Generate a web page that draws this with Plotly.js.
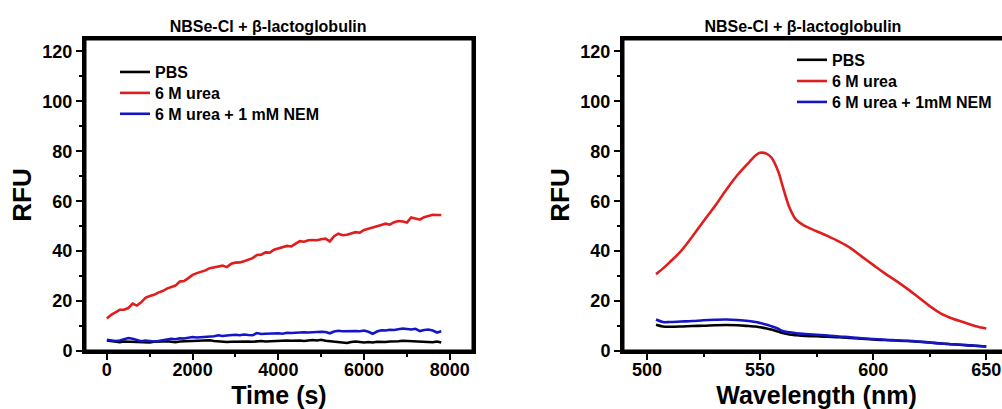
<!DOCTYPE html>
<html>
<head>
<meta charset="utf-8">
<script src="https://cdn.plot.ly/plotly-3.0.1.min.js"></script>
<style>
html,body{margin:0;padding:0;width:1002px;height:409px;overflow:hidden;background:#fff;}
#left{position:absolute;left:0;top:0;width:500px;height:409px;}
#right{position:absolute;left:500px;top:0;width:520px;height:409px;}
</style>
</head>
<body>
<div id="left"></div>
<div id="right"></div>
<script>
// ---- Data: kinetics (left panel) ----
var timeS = [0,100,200,300,400,500,600,700,800,900,1000,1100,1200,1300,1400,1500,1600,1700,1800,1900,
  2000,2100,2200,2300,2400,2500,2600,2700,2800,2900,3000,3100,3200,3300,3400,3500,3600,3700,3800,3900,
  4000,4100,4200,4300,4400,4500,4600,4700,4800,4900,5000,5100,5200,5300,5400,5500,5600,5700,5800,5900,
  6000,6100,6200,6300,6400,6500,6600,6700,6800,6900,7000,7100,7200,7300,7400,7500,7600,7700,7800];
var kinPBS = [4.2,3.9,3.6,3.5,3.8,3.7,3.9,3.6,3.5,3.6,3.4,3.7,3.6,3.8,3.9,3.7,3.5,3.8,3.9,4.0,
  4.2,4.1,4.4,4.5,4.3,4.0,3.8,3.9,3.6,3.7,3.8,3.6,3.9,3.8,3.7,3.9,4.0,3.8,3.9,4.0,
  4.1,3.9,4.2,4.1,4.3,4.2,4.0,4.3,4.4,4.2,4.5,4.1,3.9,4.0,3.8,3.5,3.2,3.6,3.8,3.6,
  3.4,3.6,3.4,3.7,3.5,3.6,3.8,3.7,3.9,4.1,4.0,4.2,3.9,4.0,3.7,3.6,3.5,3.8,3.4];
var kinUrea = [13.0,14.5,15.5,16.5,16.5,17.2,19.0,18.2,19.5,21.3,22.0,22.5,23.4,24.0,25.0,25.5,26.2,27.8,28.0,29.2,
  30.5,31.2,31.6,32.3,33.2,33.6,34.0,34.2,33.6,35.0,35.4,35.5,36.0,36.5,37.2,38.5,38.6,39.5,39.4,40.6,
  41.0,41.5,42.1,41.9,43.1,44.0,43.8,44.4,44.5,44.4,44.8,45.0,43.9,46.0,47.0,46.4,46.6,47.2,47.6,47.4,
  48.5,49.0,49.4,50.0,50.5,51.0,50.6,51.6,52.1,51.9,51.5,53.5,53.0,52.6,53.6,54.0,54.6,54.5,54.5];
var kinNEM = [4.5,4.3,4.0,4.2,4.6,5.2,4.9,4.3,3.9,4.2,4.0,3.8,4.0,4.3,4.6,4.9,4.7,5.1,5.0,5.3,
  5.6,5.4,5.5,5.8,5.6,5.9,6.3,6.0,6.2,6.4,6.5,6.3,6.6,6.4,6.3,7.2,6.8,6.9,7.0,6.8,
  7.1,6.9,7.3,7.2,7.4,7.3,7.5,7.4,7.6,7.5,7.7,7.6,7.1,7.8,8.1,7.9,8.0,7.8,8.0,7.9,
  8.2,7.7,6.9,7.8,8.3,8.2,8.5,8.4,8.8,9.0,8.8,8.6,8.9,8.0,8.4,8.6,8.2,7.4,7.9];

// ---- Data: emission spectra (right panel) ----
var wavelength = [504,507,510,515,520,525,530,535,540,545,548,550,553,555,558,560,563,566,570,575,
  580,585,590,595,600,605,610,615,620,625,630,635,640,645,650];
var specPBS = [10.5,9.8,9.7,9.8,10.0,10.1,10.3,10.4,10.3,10.0,9.8,9.5,9.0,8.6,7.8,7.2,6.6,6.3,6.0,5.9,
  5.7,5.5,5.2,4.9,4.6,4.4,4.2,4.0,3.7,3.4,3.0,2.7,2.4,2.1,1.8];
var specUrea = [30.8,33.0,35.5,40.0,45.8,52.0,58.0,64.5,70.5,75.5,78.3,79.4,79.0,77.5,72.0,66.0,57.5,52.5,50.0,48.0,
  46.0,43.8,41.2,37.8,34.5,31.2,28.2,25.0,21.5,18.0,15.0,13.0,11.5,10.0,9.0];
var specNEM = [12.6,11.6,11.6,11.8,12.0,12.3,12.5,12.6,12.4,12.0,11.6,11.2,10.5,9.9,8.9,8.0,7.5,7.1,6.8,6.5,
  6.2,5.8,5.5,5.1,4.8,4.5,4.3,4.1,3.8,3.4,3.0,2.7,2.4,2.1,1.8];

// ---- Labels / ticks ----
var seriesNames = ['PBS','6 M urea'];
var nemNameLeft = '6 M urea + 1 mM NEM';
var nemNameRight = '6 M urea + 1mM NEM';
var panelTitle = 'NBSe-Cl + \u03b2-lactoglobulin';
var yTicks = [0,20,40,60,80,100,120];
var yMinor = [10,30,50,70,90,110];
var timeTicks = [0,2000,4000,6000,8000];
var timeMinor = [1000,3000,5000,7000];
var wlTicks = [500,550,600,650];
var wlMinor = [525,575,625];

var colors = {pbs:'black', urea:'#e01e1e', nem:'#1515c8'};
var FONT = 'Liberation Sans, Arial, sans-serif';
var lw = 2.6;

function baseAxis(){
  return {showline:true, mirror:true, linewidth:3, linecolor:'black', ticks:'outside', tickcolor:'black',
    ticklen:6, tickwidth:2, showgrid:false, zeroline:false, automargin:false,
    tickfont:{family:FONT, size:18, color:'black', weight:'bold'}};
}
function legendBox(x, y){
  return {x:x, y:y, xanchor:'left', yanchor:'middle', bgcolor:'rgba(0,0,0,0)', borderwidth:0,
    font:{family:FONT, size:16, color:'black', weight:'bold'}};
}
function makeLayout(o){
  var xa = baseAxis(), ya = baseAxis();
  xa.range = o.xrange; xa.tickvals = o.xticks;
  xa.minor = {ticks:'outside', ticklen:3, tickwidth:2, tickcolor:'black', tickvals:o.xminor};
  xa.ticklabelstandoff = -6;
  xa.title = {text:o.xtitle, font:{family:FONT, size:25, color:'black', weight:'bold'}, standoff:11};
  ya.range = [0,125]; ya.tickvals = yTicks;
  ya.minor = {ticks:'outside', ticklen:3, tickwidth:2, tickcolor:'black', tickvals:yMinor};
  ya.title = {text:'RFU', font:{family:FONT, size:26, color:'black', weight:'bold'}, standoff:4};
  return {
    width:o.width, height:409, margin:{l:o.l, r:o.r, t:39, b:58, autoexpand:false},
    paper_bgcolor:'white', plot_bgcolor:'white', font:{family:FONT},
    title:{text:panelTitle, font:{family:FONT, size:16, color:'black', weight:'bold'},
      x:o.titlex, xref:'paper', xanchor:'center', y:1-26/409, yref:'container', yanchor:'middle'},
    xaxis:xa, yaxis:ya, showlegend:true,
    legend:legendBox(o.legx, o.legy[0]), legend2:legendBox(o.legx, o.legy[1]), legend3:legendBox(o.legx, o.legy[2]),
    // plot-area frame (axis box)
    shapes:[{type:'rect', xref:'paper', yref:'paper', x0:0, x1:1, y0:0, y1:1,
      line:{color:'black', width:3}, fillcolor:'rgba(0,0,0,0)', layer:'above'}]
  };
}

var leftTraces = [
  {x:timeS, y:kinPBS, name:seriesNames[0], mode:'lines', line:{color:colors.pbs, width:lw}, legend:'legend'},
  {x:timeS, y:kinUrea, name:seriesNames[1], mode:'lines', line:{color:colors.urea, width:lw}, legend:'legend2'},
  {x:timeS, y:kinNEM, name:nemNameLeft, mode:'lines', line:{color:colors.nem, width:lw}, legend:'legend3'}
];
var rightTraces = [
  {x:wavelength, y:specPBS, name:seriesNames[0], mode:'lines', line:{color:colors.pbs, width:lw, shape:'spline'}, legend:'legend'},
  {x:wavelength, y:specUrea, name:seriesNames[1], mode:'lines', line:{color:colors.urea, width:lw, shape:'spline'}, legend:'legend2'},
  {x:wavelength, y:specNEM, name:nemNameRight, mode:'lines', line:{color:colors.nem, width:lw, shape:'spline'}, legend:'legend3'}
];

Plotly.newPlot('left', leftTraces, makeLayout({
  width:500, l:85, r:27, xrange:[-510,8540], xticks:timeTicks, xminor:timeMinor, xtitle:'Time (s)',
  titlex:0.472, legx:0.0773, legy:[0.894,0.827,0.760]
}), {staticPlot:true});

Plotly.newPlot('right', rightTraces, makeLayout({
  width:520, l:123, r:10, xrange:[489.4,660.5], xticks:wlTicks, xminor:wlMinor, xtitle:'Wavelength (nm)',
  titlex:0.465, legx:0.4367, legy:[0.933,0.865,0.798]
}), {staticPlot:true});
</script>
</body>
</html>
